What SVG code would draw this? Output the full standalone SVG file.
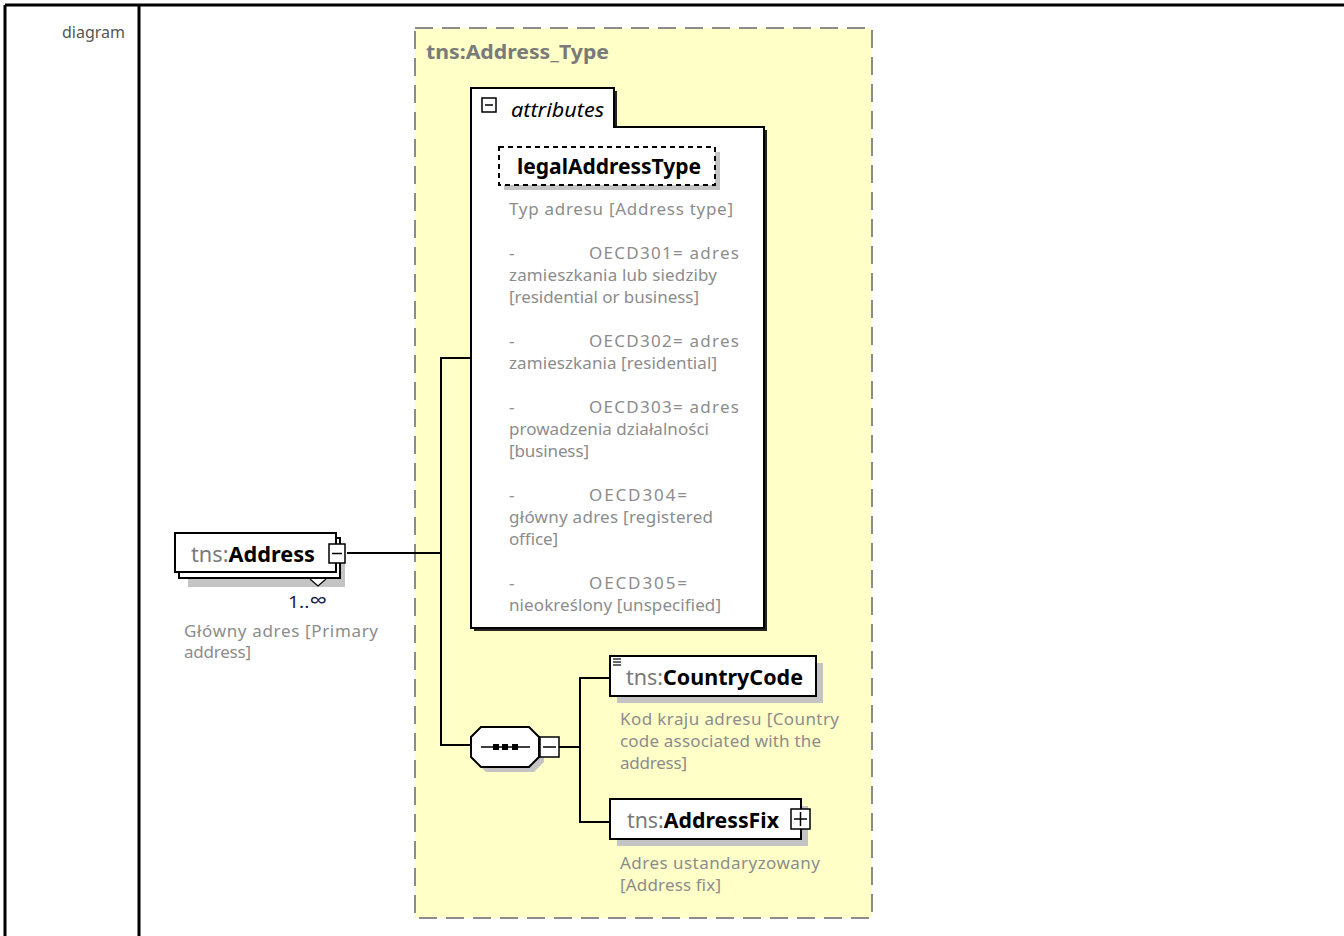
<svg xmlns="http://www.w3.org/2000/svg" width="1344" height="936" viewBox="0 0 1344 936">
<defs>
<style>
.t{font-family:"Noto Sans","Open Sans",sans-serif}
.desc{font-family:"Noto Sans","Open Sans",sans-serif;font-size:17px;fill:#8c8c8c}
.pre{fill:#7a7a7a}
.b{font-weight:bold;fill:#000}
.box{fill:#fff;stroke:#000;stroke-width:2}
.shadow{fill:#c4c4c4}
.line{fill:none;stroke:#000;stroke-width:2}
</style>
</defs>
<rect x="0" y="0" width="1344" height="936" fill="#fff"/>
<g id="table">
<line x1="5" y1="5" x2="1344" y2="5" stroke="#000" stroke-width="3"/>
<line x1="5" y1="5" x2="5" y2="936" stroke="#000" stroke-width="3"/>
<line x1="139" y1="5" x2="139" y2="936" stroke="#000" stroke-width="3"/>
<text x="125" y="38" class="t" font-size="16" fill="#555" text-anchor="end">diagram</text>
</g>
<g id="Address_Type">
<rect x="415" y="28" width="457" height="890" fill="#ffffc8" stroke="#8c8c8c" stroke-width="2" stroke-dasharray="18,9"/>
<text x="426" y="59" class="t" font-size="20" font-weight="bold" fill="#7a7a7a" textLength="183" lengthAdjust="spacingAndGlyphs">tns:Address_Type</text>
</g>
<g id="connectors" class="line">
<polyline points="347,553 441,553" class="line"/>
<polyline points="471,358 441,358 441,745 471,745" class="line"/>
<polyline points="559,747 580,747" class="line"/>
<polyline points="610,678 580,678 580,822 610,822" class="line"/>
</g>
<g id="attributes">
<path d="M474,91 H617 V130 H767 V631 H474 Z" fill="#000" opacity="0.85"/>
<path d="M471,88 H614 V127 H764 V628 H471 Z" class="box"/>
<rect x="482" y="98" width="14" height="14" fill="#fff" stroke="#000" stroke-width="1.5"/>
<line x1="485" y1="105" x2="493" y2="105" stroke="#000" stroke-width="1.5"/>
<text x="511" y="117" class="t" font-size="20" font-style="italic" fill="#000" textLength="93" lengthAdjust="spacingAndGlyphs">attributes</text>
</g>
<g id="legalAddressType">
<rect x="504" y="152" width="216" height="38" class="shadow"/>
<rect x="499" y="147" width="216" height="38" fill="#fff" stroke="#000" stroke-width="2" stroke-dasharray="5,4"/>
<text x="517" y="174" class="t b" font-size="21" textLength="184" lengthAdjust="spacingAndGlyphs">legalAddressType</text>
<text x="509" y="215" class="desc" textLength="224">Typ adresu [Address type]</text>
<text x="509" y="259" class="desc">-</text>
<text x="589" y="259" class="desc" textLength="150">OECD301= adres</text>
<text x="509" y="281" class="desc" textLength="208">zamieszkania lub siedziby</text>
<text x="509" y="303" class="desc" textLength="190">[residential or business]</text>
<text x="509" y="347" class="desc">-</text>
<text x="589" y="347" class="desc" textLength="150">OECD302= adres</text>
<text x="509" y="369" class="desc" textLength="208">zamieszkania [residential]</text>
<text x="509" y="413" class="desc">-</text>
<text x="589" y="413" class="desc" textLength="150">OECD303= adres</text>
<text x="509" y="435" class="desc" textLength="200">prowadzenia działalności</text>
<text x="509" y="457" class="desc" textLength="80">[business]</text>
<text x="509" y="501" class="desc">-</text>
<text x="589" y="501" class="desc" textLength="98">OECD304=</text>
<text x="509" y="523" class="desc" textLength="204">główny adres [registered</text>
<text x="509" y="545" class="desc" textLength="49">office]</text>
<text x="509" y="589" class="desc">-</text>
<text x="589" y="589" class="desc" textLength="98">OECD305=</text>
<text x="509" y="611" class="desc" textLength="212">nieokreślony [unspecified]</text>
</g>
<g id="Address">
<rect x="188" y="545" width="157" height="42" class="shadow"/>
<rect x="179" y="538" width="161" height="40" class="box"/>
<rect x="175" y="533" width="161" height="39" class="box"/>
<polyline points="310,579 318,586 326,579" fill="#fff" stroke="#000" stroke-width="1.2"/>
<rect x="329" y="544" width="16" height="19" fill="#fff" stroke="#000" stroke-width="1.5"/>
<line x1="332" y1="553.5" x2="342" y2="553.5" stroke="#000" stroke-width="1.5"/>
<text x="191" y="562" class="t" font-size="21" textLength="124" lengthAdjust="spacingAndGlyphs"><tspan class="pre">tns:</tspan><tspan class="b">Address</tspan></text>
<text x="288" y="608" class="t" font-size="17" fill="#1a1a4a" textLength="39" lengthAdjust="spacingAndGlyphs">1..<tspan font-size="22">∞</tspan></text>
<text x="184" y="637" class="desc" textLength="194">Główny adres [Primary</text>
<text x="184" y="658" class="desc" textLength="67">address]</text>
</g>
<g id="sequence">
<polygon points="476,742 486,732 534,732 544,742 544,762 534,772 486,772 476,762" fill="#c4c4c4"/>
<polygon points="471,737 481,727 529,727 539,737 539,757 529,767 481,767 471,757" class="box"/>
<line x1="481" y1="747" x2="530" y2="747" stroke="#000" stroke-width="1.5"/>
<rect x="493" y="744" width="6" height="6" fill="#000"/>
<rect x="502" y="744" width="6" height="6" fill="#000"/>
<rect x="512" y="744" width="6" height="6" fill="#000"/>
<rect x="540" y="737" width="19" height="20" fill="#fff" stroke="#000" stroke-width="1.5"/>
<line x1="543" y1="747" x2="556" y2="747" stroke="#000" stroke-width="1.5"/>
</g>
<g id="CountryCode">
<rect x="617" y="663" width="206" height="40" class="shadow"/>
<rect x="610" y="656" width="206" height="40" class="box"/>
<g stroke="#000" stroke-width="1.2"><line x1="613" y1="659" x2="621" y2="659"/><line x1="613" y1="662" x2="621" y2="662"/><line x1="613" y1="665" x2="621" y2="665"/></g>
<text x="626" y="685" class="t" font-size="21" textLength="177" lengthAdjust="spacingAndGlyphs"><tspan class="pre">tns:</tspan><tspan class="b">CountryCode</tspan></text>
<text x="620" y="725" class="desc" textLength="219">Kod kraju adresu [Country</text>
<text x="620" y="747" class="desc" textLength="201">code associated with the</text>
<text x="620" y="769" class="desc" textLength="67">address]</text>
</g>
<g id="AddressFix">
<rect x="617" y="806" width="191" height="40" class="shadow"/>
<rect x="610" y="799" width="191" height="40" class="box"/>
<rect x="791" y="809" width="19" height="20" fill="#fff" stroke="#000" stroke-width="1.5"/>
<line x1="794" y1="819" x2="807" y2="819" stroke="#000" stroke-width="1.5"/>
<line x1="800.5" y1="812" x2="800.5" y2="826" stroke="#000" stroke-width="1.5"/>
<text x="627" y="828" class="t" font-size="21" textLength="152" lengthAdjust="spacingAndGlyphs"><tspan class="pre">tns:</tspan><tspan class="b">AddressFix</tspan></text>
<text x="620" y="869" class="desc" textLength="200">Adres ustandaryzowany</text>
<text x="620" y="891" class="desc" textLength="101">[Address fix]</text>
</g>
</svg>
